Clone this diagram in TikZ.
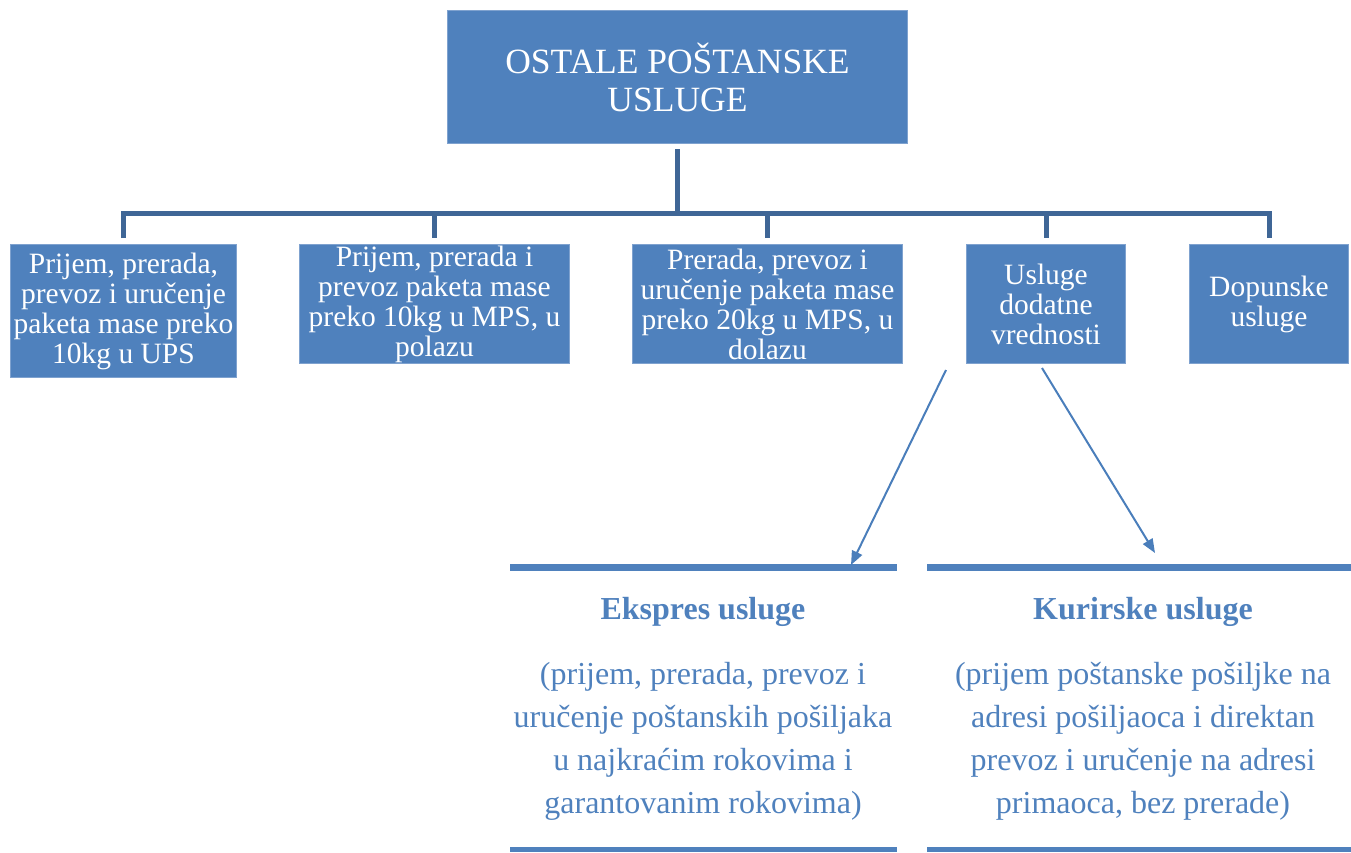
\documentclass[tikz,border=0pt]{standalone}
\usepackage{fontspec}
\IfFontExistsTF{LiberationSerif-Regular.ttf}
  {\setmainfont{LiberationSerif}[Extension=.ttf,UprightFont=*-Regular,BoldFont=*-Bold,ItalicFont=*-Italic,BoldItalicFont=*-BoldItalic]}
  {\setmainfont{Liberation Serif}}
\usetikzlibrary{arrows.meta}
\definecolor{boxfill}{HTML}{4F81BD}
\definecolor{boxline}{HTML}{7FA2CF}
\definecolor{conncol}{HTML}{3F6696}
\definecolor{arrcol}{HTML}{4A7EBB}
\definecolor{txtblue}{HTML}{4F81BD}
\tikzset{
  bluebox/.style={rectangle, fill=boxfill, draw=boxline, line width=1pt, inner sep=0pt,
    anchor=north west, align=center, text=white,
    font=\rmfamily\fontsize{29.5}{30}\selectfont},
  conn/.style={draw=conncol, line width=5pt, line join=miter},
  arr/.style={draw=arrcol, line width=2pt, -{Triangle[length=14pt,width=11pt]}},
  bar/.style={draw=txtblue, line width=7pt},
  thinbar/.style={draw=txtblue, line width=5pt},
  headtxt/.style={text=txtblue, font=\rmfamily\bfseries\fontsize{32}{36}\selectfont, align=center},
  paratxt/.style={text=txtblue, font=\rmfamily\fontsize{32}{43}\selectfont, align=center}
}
\begin{document}
\begin{tikzpicture}[x=1pt,y=-1pt]
\useasboundingbox (0,0) rectangle (1351,852);
% top box
\node[bluebox, minimum width=460pt, minimum height=133pt, font=\rmfamily\fontsize{35.5}{38}\selectfont] (top) at (447,10) {OSTALE POŠTANSKE\\USLUGE};
% second level boxes
\node[bluebox, minimum width=226pt, minimum height=133pt] (b1) at (10,244) {Prijem, prerada,\\prevoz i uručenje\\paketa mase preko\\10kg u UPS};
\node[bluebox, minimum width=270pt, minimum height=119pt] (b2) at (299,244) {Prijem, prerada i\\prevoz paketa mase\\preko 10kg u MPS, u\\polazu};
\node[bluebox, minimum width=270pt, minimum height=119pt] (b3) at (632,244) {Prerada, prevoz i\\uručenje paketa mase\\preko 20kg u MPS, u\\dolazu};
\node[bluebox, minimum width=159pt, minimum height=119pt] (b4) at (966,244) {Usluge\\dodatne\\vrednosti};
\node[bluebox, minimum width=159pt, minimum height=119pt] (b5) at (1189,244) {Dopunske\\usluge};
% tree connectors
\coordinate (bary) at (0,213);
\draw[conn, shorten <=5pt] (top.south) -- (top.south |- bary);
\draw[conn, shorten <=6pt, shorten >=6pt] (b1.north) |- (bary -| b5.north) -- (b5.north);
\draw[conn, shorten >=6pt] (b2.north |- bary) -- (b2.north);
\draw[conn, shorten >=6pt] (b3.north |- bary) -- (b3.north);
\draw[conn, shorten >=6pt] (b4.north |- bary) -- (b4.north);
% bottom separators
\coordinate (l1a) at (510,567); \coordinate (l1b) at (897,567);
\coordinate (r1a) at (927,567); \coordinate (r1b) at (1351,567);
\coordinate (l2a) at (510,849); \coordinate (l2b) at (897,849);
\coordinate (r2a) at (927,849); \coordinate (r2b) at (1351,849);
\draw[bar] (l1a) -- (l1b);
\draw[bar] (r1a) -- (r1b);
\draw[thinbar] (l2a) -- (l2b);
\draw[thinbar] (r2a) -- (r2b);
% arrows
\coordinate (a1s) at (946,370); \coordinate (a1e) at (851,565);
\coordinate (a2s) at (1042,368); \coordinate (a2e) at (1155,553);
\draw[arr] (a1s) -- (a1e);
\draw[arr] (a2s) -- (a2e);
% bottom texts
\node[headtxt] (eh) at (703,612) {Ekspres usluge};
\node[paratxt] (ep) at (703,741) {(prijem, prerada, prevoz i\\uručenje poštanskih pošiljaka\\u najkraćim rokovima i\\garantovanim rokovima)};
\node[headtxt] (kh) at (1143,612) {Kurirske usluge};
\node[paratxt] (kp) at (1143,741) {(prijem poštanske pošiljke na\\adresi pošiljaoca i direktan\\prevoz i uručenje na adresi\\primaoca, bez prerade)};
\end{tikzpicture}
\end{document}
